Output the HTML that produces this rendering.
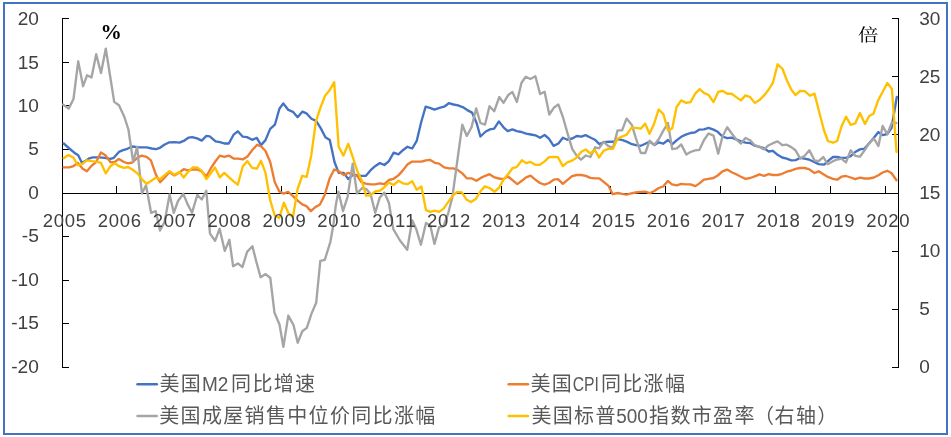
<!DOCTYPE html>
<html lang="zh"><head><meta charset="utf-8"><title>chart</title>
<style>html,body{margin:0;padding:0;background:#fff}body{width:951px;height:437px;overflow:hidden}</style></head>
<body>
<svg width="951" height="437" viewBox="0 0 951 437" style="display:block">
<rect x="0" y="0" width="951" height="437" fill="#fff"/>
<rect x="4" y="3" width="943" height="431" fill="none" stroke="#4472C4" stroke-width="2"/>
<path d="M62.5,18.0V368.0 M898.5,18.0V368.0 M62.0,193.5H899.0 M62.5,18.50h6.5 M62.5,62.12h6.5 M62.5,105.75h6.5 M62.5,149.38h6.5 M62.5,193.50h6.5 M62.5,236.62h6.5 M62.5,280.25h6.5 M62.5,323.88h6.5 M62.5,367.50h6.5 M898.5,18.50h-6.5 M898.5,76.67h-6.5 M898.5,134.83h-6.5 M898.5,193.50h-6.5 M898.5,251.17h-6.5 M898.5,309.33h-6.5 M898.5,367.50h-6.5 M116.5,194.0v-8 M171.5,194.0v-8 M226.5,194.0v-8 M281.5,194.0v-8 M336.5,194.0v-8 M391.5,194.0v-8 M446.5,194.0v-8 M501.5,194.0v-8 M555.5,194.0v-8 M610.5,194.0v-8 M665.5,194.0v-8 M720.5,194.0v-8 M775.5,194.0v-8 M830.5,194.0v-8 M885.5,194.0v-8" stroke="#000" stroke-width="1" fill="none" shape-rendering="crispEdges"/>
<polyline points="63.7,143.5 69.3,148.5 74.3,152.7 78.2,155.2 81.9,162.8 86.0,160.5 89.4,158.3 92.8,157.4 99.5,157.4 104.6,157.8 110.5,158.9 113.8,157.8 118.9,151.9 123.1,150.2 127.3,148.8 132.3,146.5 139.1,147.3 146.6,147.3 151.7,148.5 155.9,149.2 159.3,148.2 164.3,144.8 169.4,142.3 174.4,142.1 179.5,142.6 183.7,140.9 188.7,137.6 192.1,137.1 197.1,138.4 201.7,140.6 206.4,135.9 209.7,136.4 215.6,141.3 220.0,142.1 224.3,143.5 228.8,143.5 233.6,134.7 237.8,131.3 242.8,136.7 247.0,137.1 252.1,139.8 256.8,137.9 261.0,145.1 265.5,140.1 270.2,128.9 274.9,124.7 279.4,108.7 283.3,103.4 288.4,109.9 292.9,111.8 297.6,117.2 302.5,111.6 306.4,113.3 311.4,118.8 316.1,120.9 320.7,128.1 325.4,137.3 329.8,140.1 334.5,162.0 338.7,172.9 343.8,172.9 348.3,179.1 353.0,174.6 357.7,175.4 361.4,175.8 365.9,175.8 370.4,170.4 375.1,166.2 379.9,163.1 384.4,165.0 388.9,161.1 393.6,152.7 398.4,154.4 402.9,150.2 407.4,146.8 412.2,148.5 416.7,140.9 421.1,122.5 425.6,106.7 429.9,107.9 434.5,109.6 439.5,107.9 444.1,106.7 448.8,103.2 453.5,104.5 458.0,105.4 462.6,107.1 467.3,110.1 472.0,112.6 476.6,123.0 480.4,136.5 485.8,131.5 490.0,129.4 494.2,128.6 498.9,121.4 503.5,127.3 507.7,131.1 512.4,129.4 516.9,131.1 521.5,132.0 526.2,133.6 530.9,134.5 535.4,135.3 540.0,137.8 544.6,135.0 548.9,138.6 553.6,145.9 558.4,143.5 562.9,137.7 567.4,139.7 572.2,138.5 576.7,136.0 581.4,136.7 585.6,135.1 590.3,137.5 594.9,139.7 599.4,144.2 604.1,142.2 608.7,141.7 613.4,141.7 617.9,139.2 622.6,140.2 627.2,141.9 631.9,144.2 636.1,145.2 640.8,145.8 645.3,143.8 649.8,141.5 654.4,145.0 658.7,142.3 663.3,143.7 668.0,140.0 672.4,144.2 676.9,140.2 681.2,136.8 685.8,134.6 690.5,133.0 695.2,132.3 699.4,129.6 703.9,129.3 708.6,127.9 713.5,129.6 717.7,131.8 722.4,136.5 727.2,138.2 731.7,137.7 736.2,139.3 740.9,141.4 745.5,142.7 750.2,143.0 754.7,145.7 759.5,146.9 764.0,148.1 768.7,151.5 772.9,150.8 777.6,154.8 782.2,157.5 786.7,158.7 791.4,160.4 795.6,160.2 799.9,157.9 804.4,158.7 808.9,159.5 813.6,161.7 818.7,164.1 824.1,164.6 828.8,160.4 833.0,157.0 837.2,157.0 841.4,157.9 846.0,157.9 850.7,156.2 855.2,152.0 859.9,149.4 864.6,148.6 869.2,143.2 873.9,137.7 878.4,132.1 882.6,135.1 887.3,134.0 891.5,128.0 896.8,97.0" fill="none" stroke="#4472C4" stroke-width="2.35" stroke-linejoin="round" stroke-linecap="round"/>
<polyline points="63.7,167.4 69.3,167.4 73.5,166.2 77.7,162.8 82.7,168.7 86.9,171.2 92.0,165.3 96.2,162.0 100.9,152.4 105.4,155.2 110.5,162.3 114.7,162.0 118.9,158.9 123.9,162.0 128.1,163.3 132.3,162.5 137.4,157.8 141.6,155.6 146.6,156.9 150.9,160.3 155.9,174.6 160.1,182.2 164.3,178.0 169.4,172.1 174.4,175.4 178.6,172.9 183.7,169.2 187.9,170.4 192.9,169.5 197.1,169.5 201.3,171.2 206.4,176.3 210.6,168.7 215.3,161.5 219.8,155.6 224.3,156.9 228.8,155.6 233.6,158.6 238.1,158.6 242.8,159.4 247.4,156.6 252.1,150.2 257.1,144.8 261.3,146.5 265.5,151.0 270.2,162.0 274.8,182.2 279.3,191.4 283.5,193.6 288.2,191.9 292.7,195.8 297.1,200.2 302.2,204.4 306.4,206.1 310.9,211.1 315.6,206.9 319.8,204.7 324.5,195.5 329.5,178.8 334.2,169.5 338.7,171.2 343.8,175.1 348.3,172.9 353.0,174.6 357.7,176.3 361.4,182.2 365.6,183.6 370.4,184.3 375.1,184.3 379.9,183.3 384.4,184.2 388.9,180.0 393.6,178.8 398.4,175.4 402.9,170.4 407.4,164.5 412.2,161.6 416.7,161.6 421.4,161.6 426.0,160.3 429.8,159.8 434.9,162.8 439.1,163.6 444.1,167.4 449.2,168.4 453.4,168.4 457.6,169.9 462.3,173.4 466.8,178.3 471.4,178.3 476.4,180.8 480.8,177.9 485.3,175.8 489.5,174.2 494.6,177.4 498.8,178.5 503.6,179.1 508.0,176.5 512.8,180.4 517.3,184.1 521.9,180.8 526.1,177.4 530.6,175.7 535.3,179.6 539.9,183.0 544.6,184.6 549.1,183.0 553.8,179.6 558.0,179.1 562.8,183.8 567.3,180.1 572.0,176.2 576.6,175.0 581.3,175.0 585.8,175.9 590.3,177.9 595.1,178.4 599.3,178.4 604.0,182.1 608.5,185.8 612.7,194.2 617.8,193.0 622.0,193.9 626.5,194.7 631.2,193.4 635.8,192.5 640.5,191.9 645.0,191.7 649.7,193.2 654.3,191.0 658.8,188.0 663.2,186.5 667.8,180.9 672.0,184.4 676.7,185.3 681.2,183.9 685.8,184.3 690.5,184.4 695.5,186.1 699.4,183.4 703.9,179.7 708.6,178.9 713.5,178.0 717.7,175.5 722.4,171.3 727.2,169.6 731.7,172.2 736.2,174.3 740.9,176.7 745.5,178.9 750.2,178.0 754.7,176.4 759.5,174.3 764.0,175.9 768.7,174.2 772.9,175.0 777.6,175.0 782.2,173.8 786.7,171.7 791.4,170.5 795.6,168.8 799.9,168.0 804.4,168.0 808.9,169.1 814.5,173.0 818.7,171.3 823.4,174.2 827.9,176.9 833.0,178.9 837.2,179.7 841.4,176.7 846.0,176.0 850.7,177.5 855.2,179.2 859.9,177.7 864.6,178.5 869.2,178.5 873.9,177.5 878.4,175.2 882.6,172.5 887.3,170.8 891.4,173.0 896.5,180.2" fill="none" stroke="#ED7D31" stroke-width="2.35" stroke-linejoin="round" stroke-linecap="round"/>
<polyline points="63.0,104.5 68.7,108.6 73.5,99.0 78.2,61.3 83.1,86.2 87.0,75.3 91.5,77.5 96.2,54.2 101.0,73.0 105.8,48.6 110.0,75.3 114.2,101.9 119.0,105.2 124.4,117.0 128.4,129.5 133.2,162.0 137.1,146.8 141.9,193.5 146.0,185.2 151.1,212.8 155.7,211.1 160.0,230.5 164.6,222.0 169.6,194.5 173.8,212.8 178.0,201.0 183.3,193.7 187.3,203.6 192.0,212.8 197.3,195.0 201.8,199.5 206.3,190.8 210.0,233.6 215.1,240.8 219.6,228.7 224.8,250.9 229.4,239.8 233.1,266.2 237.9,263.4 242.4,267.1 247.1,251.9 252.4,246.2 256.4,262.0 260.6,277.2 265.6,274.1 270.3,278.0 274.5,312.8 279.5,324.5 283.4,346.9 288.3,315.6 293.5,325.0 297.7,342.7 302.3,331.3 306.8,327.9 311.5,313.6 316.2,302.7 320.3,260.8 324.8,259.8 330.4,241.8 333.5,224.0 335.8,205.2 338.4,191.6 343.0,211.1 347.6,196.8 352.7,163.6 357.0,193.5 361.9,188.2 366.0,188.8 370.6,194.0 375.2,212.8 379.7,197.6 384.3,192.5 388.9,202.7 393.3,229.2 400.0,240.5 407.2,249.8 412.2,220.3 416.4,229.6 420.9,244.7 426.0,222.9 430.3,225.4 434.5,243.9 439.1,227.1 443.6,226.2 448.3,212.8 452.3,197.5 457.7,158.0 462.3,124.7 466.8,136.0 471.5,127.3 476.2,108.4 480.4,123.0 485.0,124.7 489.5,106.2 494.2,111.3 499.3,97.0 503.5,102.9 508.0,95.3 512.4,91.9 516.9,102.0 521.5,82.7 525.8,76.8 530.4,79.0 535.4,76.3 540.1,94.0 544.6,91.8 549.3,114.5 553.8,107.8 558.3,104.4 562.9,117.0 567.4,132.9 572.2,148.9 576.6,155.7 581.0,159.7 585.8,155.5 590.4,157.0 595.1,147.3 599.0,148.3 603.7,141.8 608.4,146.1 613.0,147.8 617.6,130.4 622.1,130.4 626.5,118.6 631.9,125.0 636.1,138.8 640.8,153.0 645.3,153.0 649.6,140.6 654.2,145.0 658.7,139.2 663.3,130.6 668.0,123.1 672.2,149.1 676.9,148.4 681.2,144.4 686.3,154.5 690.5,152.0 695.2,150.3 699.4,149.8 703.9,140.2 708.6,133.5 713.5,135.6 718.2,153.6 722.4,136.8 727.2,127.2 731.7,133.5 736.2,139.3 740.9,143.6 745.5,138.0 750.2,140.2 754.7,145.2 759.5,146.9 764.0,149.4 768.7,145.2 772.9,143.2 777.6,141.4 782.3,145.2 786.7,144.7 790.9,146.9 795.5,150.3 800.2,158.4 804.7,155.8 809.4,150.3 814.5,160.4 818.7,161.2 823.4,157.0 827.6,164.2 833.0,161.2 837.2,159.5 841.4,158.7 846.0,162.4 850.7,150.3 855.2,155.8 859.9,156.7 864.6,150.3 869.2,143.2 873.9,138.5 878.4,146.1 882.6,125.9 887.3,134.3 891.9,122.5 896.3,123.0" fill="none" stroke="#A5A5A5" stroke-width="2.35" stroke-linejoin="round" stroke-linecap="round"/>
<polyline points="63.7,158.3 68.4,154.9 73.5,157.8 77.7,165.3 81.9,164.2 86.9,160.3 92.0,161.1 96.2,161.6 100.9,162.8 105.8,173.4 110.5,166.2 114.7,163.1 118.9,166.2 123.9,167.9 128.1,167.0 132.3,169.5 137.4,173.4 141.6,178.8 146.6,183.8 151.7,180.5 155.9,177.6 160.1,179.1 164.3,175.4 169.4,171.2 174.4,174.6 179.5,172.1 183.7,177.4 187.9,172.1 192.9,167.4 197.1,167.4 201.3,170.4 206.4,179.1 210.6,173.5 215.0,167.4 219.8,177.4 224.3,172.9 228.8,177.1 233.6,181.3 237.8,184.7 242.8,166.2 247.4,161.1 252.1,167.9 256.8,168.7 261.0,160.8 265.5,172.9 270.2,200.2 274.7,215.5 279.3,218.0 283.9,202.7 288.4,213.0 293.0,217.0 297.6,189.0 302.2,175.8 306.7,176.8 311.3,155.2 315.9,121.4 320.4,107.9 325.0,95.8 329.6,90.2 334.2,82.2 338.7,146.8 343.4,155.6 348.3,143.8 353.0,157.8 357.7,172.1 361.6,180.0 366.1,195.7 370.4,195.3 375.1,191.5 379.9,190.7 384.4,187.3 388.9,182.5 393.6,185.0 398.4,180.8 402.9,183.3 407.4,184.2 412.2,181.3 416.7,189.7 421.4,186.5 426.0,210.2 430.3,211.9 434.5,210.7 439.1,211.9 443.6,208.6 448.3,201.8 452.5,195.8 457.1,192.0 461.8,192.4 466.3,199.4 471.0,202.1 475.8,199.0 480.3,191.5 484.8,186.4 489.5,188.0 494.6,191.7 498.8,188.0 503.6,179.6 508.0,174.3 512.5,168.2 516.7,167.1 521.9,160.2 526.1,163.1 530.3,161.9 535.3,164.8 539.9,164.8 544.6,161.4 549.1,157.2 553.8,156.9 558.0,157.2 562.8,166.1 567.3,162.3 572.0,160.7 576.6,157.6 581.3,151.7 585.7,149.5 590.3,153.5 595.0,150.0 599.0,157.5 603.7,150.6 608.4,148.8 613.0,148.8 617.5,138.6 622.0,136.7 626.5,134.7 631.4,127.9 636.1,127.9 640.8,128.7 645.2,123.6 649.5,133.8 654.1,123.7 658.7,109.5 663.4,114.2 668.0,130.4 672.2,128.4 676.6,107.0 681.2,100.4 686.3,102.9 690.5,102.1 695.2,93.7 699.7,89.2 703.9,92.9 708.6,95.0 713.5,102.1 718.2,92.0 722.4,90.8 727.2,93.7 731.7,93.7 736.2,97.1 740.9,100.4 745.5,95.4 750.2,97.1 754.7,102.9 759.5,100.1 764.0,95.4 768.7,89.5 772.9,82.8 777.6,64.3 782.6,69.0 787.0,80.6 791.2,89.5 795.5,95.0 800.2,90.8 804.7,91.1 809.9,95.7 814.5,93.6 819.0,111.3 823.9,130.0 827.9,141.0 833.0,142.7 837.2,141.0 841.6,126.2 846.0,116.7 850.7,124.8 855.2,123.4 859.9,113.0 865.0,123.9 869.2,116.0 873.4,113.8 878.1,100.4 882.6,92.0 887.3,83.0 891.9,88.9 896.5,152.0" fill="none" stroke="#FFC000" stroke-width="2.35" stroke-linejoin="round" stroke-linecap="round"/>
<g font-family="Liberation Sans, sans-serif" font-size="18.5" fill="#404040">
<text x="38.9" y="25.0" text-anchor="end" textLength="21.2" lengthAdjust="spacingAndGlyphs">20</text>
<text x="38.9" y="68.5" text-anchor="end" textLength="21.2" lengthAdjust="spacingAndGlyphs">15</text>
<text x="38.9" y="111.9" text-anchor="end" textLength="21.2" lengthAdjust="spacingAndGlyphs">10</text>
<text x="38.9" y="155.4" text-anchor="end" textLength="10.6" lengthAdjust="spacingAndGlyphs">5</text>
<text x="38.9" y="198.9" text-anchor="end" textLength="10.6" lengthAdjust="spacingAndGlyphs">0</text>
<text x="38.9" y="242.3" text-anchor="end" textLength="17.1" lengthAdjust="spacingAndGlyphs">-5</text>
<text x="38.9" y="285.8" text-anchor="end" textLength="27.7" lengthAdjust="spacingAndGlyphs">-10</text>
<text x="38.9" y="329.3" text-anchor="end" textLength="27.7" lengthAdjust="spacingAndGlyphs">-15</text>
<text x="38.9" y="372.8" text-anchor="end" textLength="27.7" lengthAdjust="spacingAndGlyphs">-20</text>
<text x="919.2" y="24.7" textLength="21.2" lengthAdjust="spacingAndGlyphs">30</text>
<text x="919.2" y="82.7" textLength="21.2" lengthAdjust="spacingAndGlyphs">25</text>
<text x="919.2" y="140.7" textLength="21.2" lengthAdjust="spacingAndGlyphs">20</text>
<text x="919.2" y="198.7" textLength="21.2" lengthAdjust="spacingAndGlyphs">15</text>
<text x="919.2" y="256.7" textLength="21.2" lengthAdjust="spacingAndGlyphs">10</text>
<text x="919.2" y="314.7" textLength="10.6" lengthAdjust="spacingAndGlyphs">5</text>
<text x="919.2" y="372.7" textLength="10.6" lengthAdjust="spacingAndGlyphs">0</text>
<text x="64.5" y="227" text-anchor="middle" textLength="43.3" lengthAdjust="spacing">2005</text>
<text x="119.4" y="227" text-anchor="middle" textLength="43.3" lengthAdjust="spacing">2006</text>
<text x="174.3" y="227" text-anchor="middle" textLength="43.3" lengthAdjust="spacing">2007</text>
<text x="229.2" y="227" text-anchor="middle" textLength="43.3" lengthAdjust="spacing">2008</text>
<text x="284.1" y="227" text-anchor="middle" textLength="43.3" lengthAdjust="spacing">2009</text>
<text x="338.9" y="227" text-anchor="middle" textLength="43.3" lengthAdjust="spacing">2010</text>
<text x="393.8" y="227" text-anchor="middle" textLength="43.3" lengthAdjust="spacing">2011</text>
<text x="448.7" y="227" text-anchor="middle" textLength="43.3" lengthAdjust="spacing">2012</text>
<text x="503.6" y="227" text-anchor="middle" textLength="43.3" lengthAdjust="spacing">2013</text>
<text x="558.5" y="227" text-anchor="middle" textLength="43.3" lengthAdjust="spacing">2014</text>
<text x="613.4" y="227" text-anchor="middle" textLength="43.3" lengthAdjust="spacing">2015</text>
<text x="668.3" y="227" text-anchor="middle" textLength="43.3" lengthAdjust="spacing">2016</text>
<text x="723.2" y="227" text-anchor="middle" textLength="43.3" lengthAdjust="spacing">2017</text>
<text x="778.1" y="227" text-anchor="middle" textLength="43.3" lengthAdjust="spacing">2018</text>
<text x="833.0" y="227" text-anchor="middle" textLength="43.3" lengthAdjust="spacing">2019</text>
<text x="887.9" y="227" text-anchor="middle" textLength="43.3" lengthAdjust="spacing">2020</text>
</g>
<text x="111.2" y="39" text-anchor="middle" font-family="Liberation Serif, serif" font-weight="bold" font-size="21.3" fill="#000">%</text>
<text transform="translate(868.2,40.6) scale(1.08,0.92)" x="0" y="0" text-anchor="middle" font-family="Liberation Serif, Noto Serif CJK SC, serif" font-size="19" fill="#000">倍</text>
<line x1="137.5" y1="384.3" x2="156.8" y2="384.3" stroke="#4472C4" stroke-width="2.5" stroke-linecap="round"/>
<g font-family="Liberation Sans, Noto Sans CJK SC, sans-serif" font-size="20" fill="#595959">
<text x="159.4 180.7" y="391.3">美国</text>
<text x="202.0" y="391.3" font-size="19.5" textLength="26.4" lengthAdjust="spacingAndGlyphs">M2</text>
<text x="231.0 252.4 273.7 295.0" y="391.3">同比增速</text>
</g>
<line x1="137.5" y1="416.1" x2="156.8" y2="416.1" stroke="#A5A5A5" stroke-width="2.5" stroke-linecap="round"/>
<g font-family="Liberation Sans, Noto Sans CJK SC, sans-serif" font-size="20" fill="#595959">
<text x="159.3 180.6 201.9 223.3 244.6 265.9 287.2 308.6 329.9 351.2 372.6 393.9 415.2" y="422.7">美国成屋销售中位价同比涨幅</text>
</g>
<line x1="508.7" y1="384.3" x2="528.0" y2="384.3" stroke="#ED7D31" stroke-width="2.5" stroke-linecap="round"/>
<g font-family="Liberation Sans, Noto Sans CJK SC, sans-serif" font-size="20" fill="#595959">
<text x="530.5 551.8" y="391.3">美国</text>
<text x="572.7" y="391.3" font-size="19.5" textLength="26.2" lengthAdjust="spacingAndGlyphs">CPI</text>
<text x="600.9 622.3 643.6 664.9" y="391.3">同比涨幅</text>
</g>
<line x1="508.7" y1="416.1" x2="528.0" y2="416.1" stroke="#FFC000" stroke-width="2.5" stroke-linecap="round"/>
<g font-family="Liberation Sans, Noto Sans CJK SC, sans-serif" font-size="20" fill="#595959">
<text x="531.4 552.7 574.0 595.4" y="422.7">美国标普</text>
<text x="616.3" y="422.7" font-size="19.5" textLength="31.6" lengthAdjust="spacingAndGlyphs">500</text>
<text x="649.1 670.4 691.8 713.1 734.4 753.9 774.6 796.0 817.3" y="422.7">指数市盈率（右轴）</text>
</g>
</svg>
</body></html>
